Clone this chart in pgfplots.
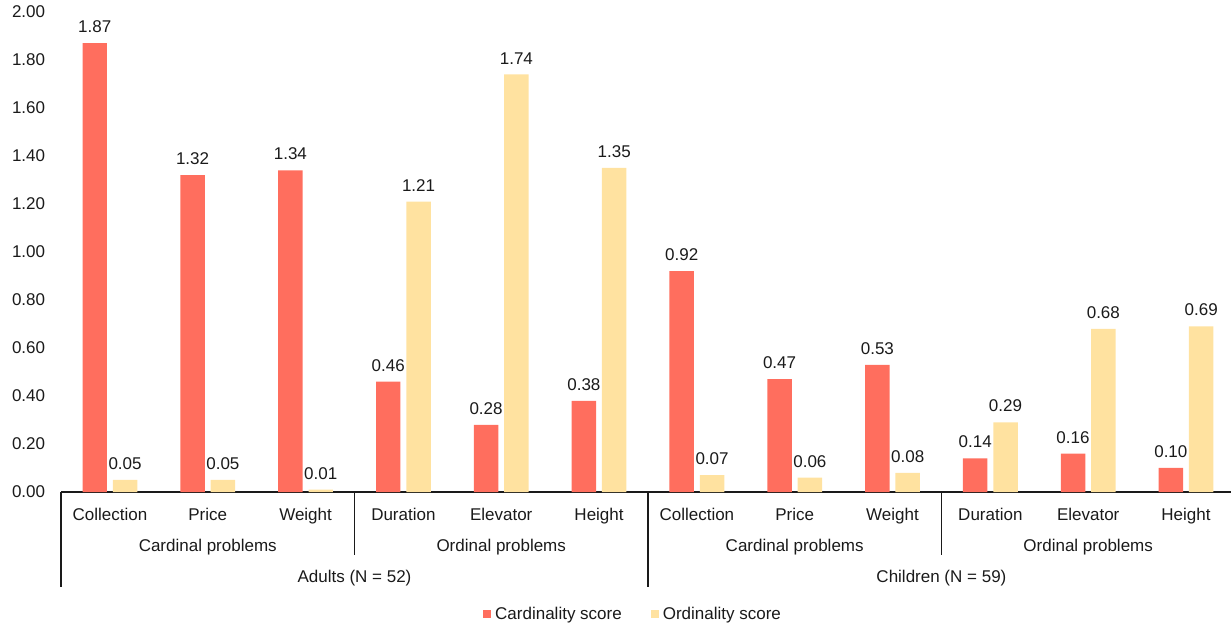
\documentclass[border=0pt]{standalone}
\usepackage{pgfplots}
\pgfplotsset{compat=1.18}
\usepackage{fontspec}
\setmainfont{Liberation Sans}
\definecolor{cardred}{HTML}{FF6E5E}
\definecolor{ordyel}{HTML}{FFE2A0}
\definecolor{txt}{HTML}{1A1A1A}

\begin{document}
\fontsize{17bp}{20bp}\selectfont
\color{txt}
\begin{tikzpicture}
\begin{axis}[
    at={(61bp,133bp)}, anchor=south west,
    scale only axis, width=1170bp, height=480bp,
    xmin=-0.5, xmax=11.46, ymin=0, ymax=2,
    clip=false,
    ybar, bar width=0.25,
    axis lines*=left,
    y axis line style={draw=none},
    x axis line style={line width=1.3bp, txt, -},
    major tick length=0pt,
    ytick={0,0.2,0.4,0.6,0.8,1.0,1.2,1.4,1.6,1.8,2.0},
    xtick={0,1,2,3,4,5,6,7,8,9,10,11},
    xticklabels={Collection,Price,Weight,Duration,Elevator,Height,Collection,Price,Weight,Duration,Elevator,Height},
    /pgf/number format/.cd, fixed, fixed zerofill, precision=2, assume math mode=true,
    /pgfplots/.cd,
    yticklabel style={xshift=-10bp},
    xticklabel style={yshift=-10bp},
    nodes near coords,
    nodes near coords style={yshift=4.5bp},
    legend columns=2,
    legend image code/.code={\fill[#1,draw=none] (0bp,-4bp) rectangle (8bp,4bp); \path (10bp,0bp);},
    legend style={at={(0.3607,-0.255)}, anchor=west, draw=none, inner sep=0pt,
        /tikz/every even column/.append style={column sep=27bp}},
]
\addplot[bar shift=-0.155, fill=cardred, draw=none] coordinates {
    (0,1.87) (1,1.32) (2,1.34) (3,0.46) (4,0.28) (5,0.38)
    (6,0.92) (7,0.47) (8,0.53) (9,0.14) (10,0.16) (11,0.10)};
\addlegendentry{Cardinality score}
\addplot[bar shift=0.155, fill=ordyel, draw=none] coordinates {
    (0,0.05) (1,0.05) (2,0.01) (3,1.21) (4,1.74) (5,1.35)
    (6,0.07) (7,0.06) (8,0.08) (9,0.29) (10,0.68) (11,0.69)};
\addlegendentry{Ordinality score}

% group labels and separators below the axis
\draw[line width=1.3bp] (axis cs:-0.5,0) -- ++(0bp,-95bp);
\draw[line width=1.3bp] (axis cs:2.5,0) -- ++(0bp,-63bp);
\draw[line width=1.3bp] (axis cs:5.5,0) -- ++(0bp,-95bp);
\draw[line width=1.3bp] (axis cs:8.5,0) -- ++(0bp,-63bp);
\node[yshift=-55bp] at (axis cs:1,0) {Cardinal problems};
\node[yshift=-55bp] at (axis cs:4,0) {Ordinal problems};
\node[yshift=-55bp] at (axis cs:7,0) {Cardinal problems};
\node[yshift=-55bp] at (axis cs:10,0) {Ordinal problems};
\node[yshift=-86bp] at (axis cs:2.5,0) {Adults (N = 52)};
\node[yshift=-86bp] at (axis cs:8.5,0) {Children (N = 59)};
\end{axis}
\pgfresetboundingbox
\useasboundingbox (0,0) rectangle (1231bp,625bp);
\end{tikzpicture}
\end{document}
